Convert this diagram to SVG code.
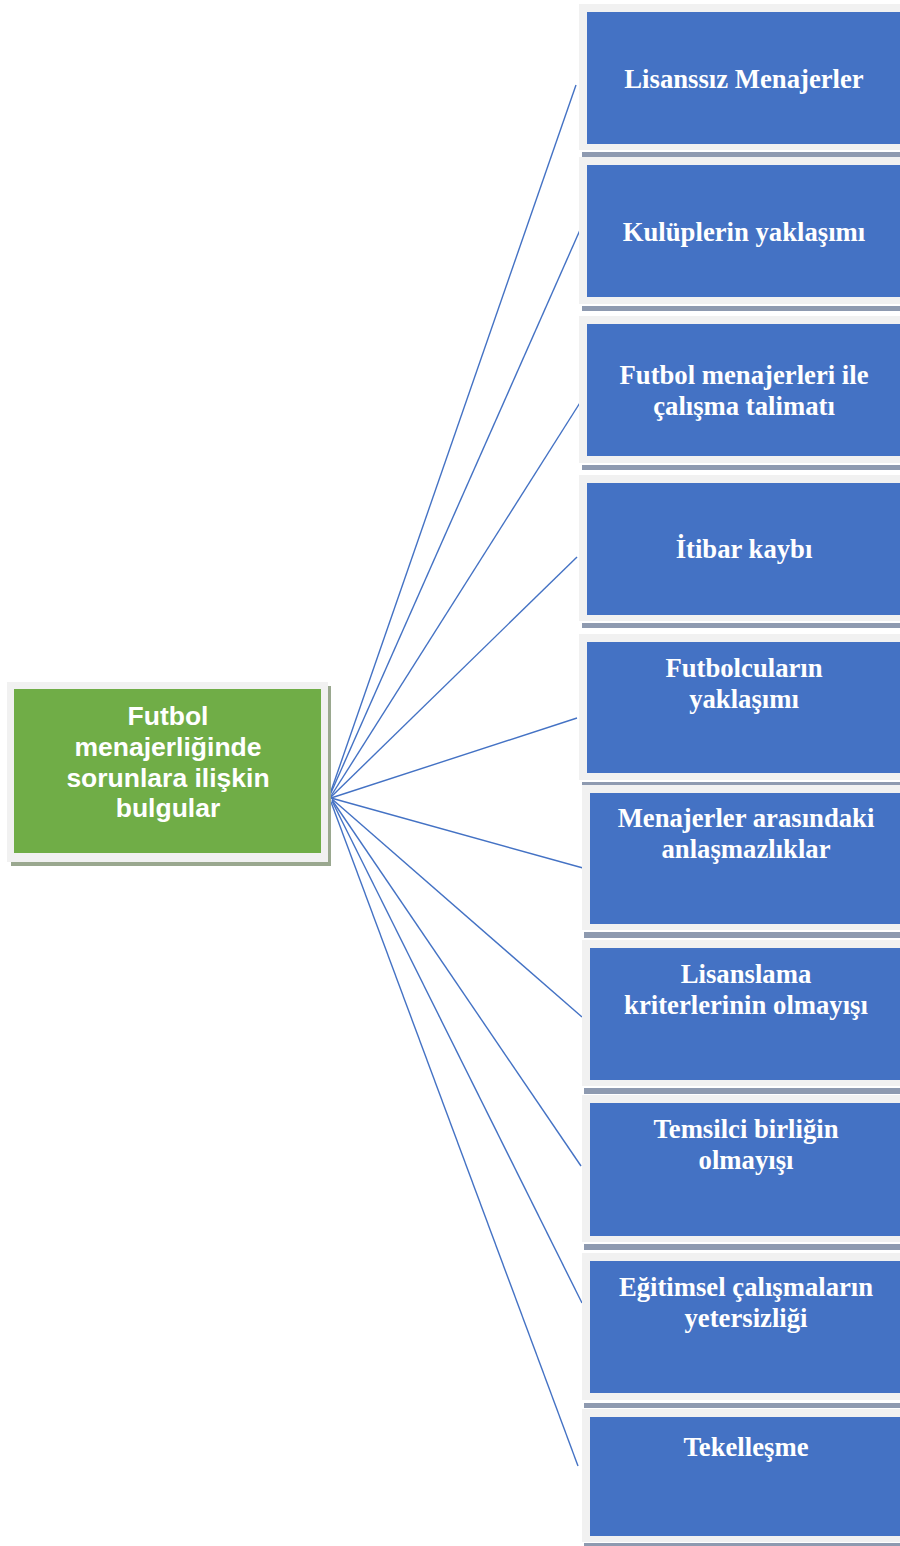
<svg xmlns="http://www.w3.org/2000/svg" width="900" height="1546" viewBox="0 0 900 1546">
  <style>
    .frame { fill: #f1f1f1; }
    .shadow { fill: #8e9ab0; }
    .card { fill: #4472c4; }
    .root-card { fill: #70ad47; }
    .root-shadow { fill: #9aa88f; }
    .label { font-family: "Liberation Serif", "Times New Roman", serif; font-weight: bold; font-size: 26.7px; fill: #ffffff; text-anchor: middle; }
    .root-label { font-family: "Liberation Sans", Arial, sans-serif; font-weight: bold; font-size: 26.5px; fill: #ffffff; text-anchor: middle; }
    .link { stroke: #4472c4; stroke-width: 1.4; fill: none; }
  </style>

  <!-- connectors from the root to each finding -->
  <g id="connectors">
    <line class="link" x1="330" y1="794" x2="576" y2="85"/>
    <line class="link" x1="330" y1="795" x2="580" y2="230"/>
    <line class="link" x1="331" y1="796" x2="583" y2="398"/>
    <line class="link" x1="331" y1="797" x2="577" y2="557"/>
    <line class="link" x1="331" y1="798" x2="577" y2="718"/>
    <line class="link" x1="331" y1="798" x2="583" y2="868"/>
    <line class="link" x1="332" y1="799" x2="582" y2="1017"/>
    <line class="link" x1="332" y1="800" x2="581" y2="1166"/>
    <line class="link" x1="332" y1="801" x2="582" y2="1303"/>
    <line class="link" x1="331" y1="802" x2="578" y2="1466"/>
  </g>

  <!-- root node -->
  <g id="root">
    <rect class="root-shadow" x="11" y="686" width="320" height="180"/>
    <rect class="frame" x="7" y="682" width="321" height="180"/>
    <rect class="root-card" x="14" y="689" width="307" height="164"/>
    <text class="root-label" x="168" y="725">Futbol</text>
    <text class="root-label" x="168" y="756">menajerliğinde</text>
    <text class="root-label" x="168" y="787">sorunlara ilişkin</text>
    <text class="root-label" x="168" y="817">bulgular</text>
  </g>

  <!-- findings -->
  <g id="n1">
    <rect class="shadow" x="582" y="152" width="318" height="5"/>
    <rect class="frame" x="579" y="4" width="321" height="146"/>
    <rect class="card" x="587" y="12" width="313" height="132"/>
    <text class="label" x="744" y="88">Lisanssız Menajerler</text>
  </g>
  <g id="n2">
    <rect class="shadow" x="582" y="306" width="318" height="5"/>
    <rect class="frame" x="579" y="157" width="321" height="147"/>
    <rect class="card" x="587" y="165" width="313" height="132"/>
    <text class="label" x="744" y="241">Kulüplerin yaklaşımı</text>
  </g>
  <g id="n3">
    <rect class="shadow" x="582" y="465" width="318" height="5"/>
    <rect class="frame" x="579" y="316" width="321" height="147"/>
    <rect class="card" x="587" y="324" width="313" height="132"/>
    <text class="label" x="744" y="384">Futbol menajerleri ile</text>
    <text class="label" x="744" y="415">çalışma talimatı</text>
  </g>
  <g id="n4">
    <rect class="shadow" x="582" y="623" width="318" height="5"/>
    <rect class="frame" x="579" y="475" width="321" height="146"/>
    <rect class="card" x="587" y="483" width="313" height="132"/>
    <text class="label" x="744" y="558">İtibar kaybı</text>
  </g>
  <g id="n5">
    <rect class="shadow" x="582" y="782" width="318" height="4"/>
    <rect class="frame" x="579" y="634" width="321" height="146"/>
    <rect class="card" x="587" y="642" width="313" height="131"/>
    <text class="label" x="744" y="677">Futbolcuların</text>
    <text class="label" x="744" y="708">yaklaşımı</text>
  </g>
  <g id="n6">
    <rect class="shadow" x="584" y="932" width="316" height="6"/>
    <rect class="frame" x="582" y="785" width="318" height="145"/>
    <rect class="card" x="590" y="793" width="310" height="131"/>
    <text class="label" x="746" y="827">Menajerler arasındaki</text>
    <text class="label" x="746" y="858">anlaşmazlıklar</text>
  </g>
  <g id="n7">
    <rect class="shadow" x="584" y="1088" width="316" height="6"/>
    <rect class="frame" x="582" y="940" width="318" height="146"/>
    <rect class="card" x="590" y="948" width="310" height="132"/>
    <text class="label" x="746" y="983">Lisanslama</text>
    <text class="label" x="746" y="1014">kriterlerinin olmayışı</text>
  </g>
  <g id="n8">
    <rect class="shadow" x="584" y="1244" width="316" height="6"/>
    <rect class="frame" x="582" y="1095" width="318" height="147"/>
    <rect class="card" x="590" y="1103" width="310" height="133"/>
    <text class="label" x="746" y="1138">Temsilci birliğin</text>
    <text class="label" x="746" y="1169">olmayışı</text>
  </g>
  <g id="n9">
    <rect class="shadow" x="584" y="1403" width="316" height="5"/>
    <rect class="frame" x="582" y="1253" width="318" height="147"/>
    <rect class="card" x="590" y="1261" width="310" height="132"/>
    <text class="label" x="746" y="1296">Eğitimsel çalışmaların</text>
    <text class="label" x="746" y="1327">yetersizliği</text>
  </g>
  <g id="n10">
    <rect class="shadow" x="584" y="1543" width="316" height="3"/>
    <rect class="frame" x="582" y="1409" width="318" height="133"/>
    <rect class="card" x="590" y="1417" width="310" height="119"/>
    <text class="label" x="746" y="1456">Tekelleşme</text>
  </g>
</svg>
